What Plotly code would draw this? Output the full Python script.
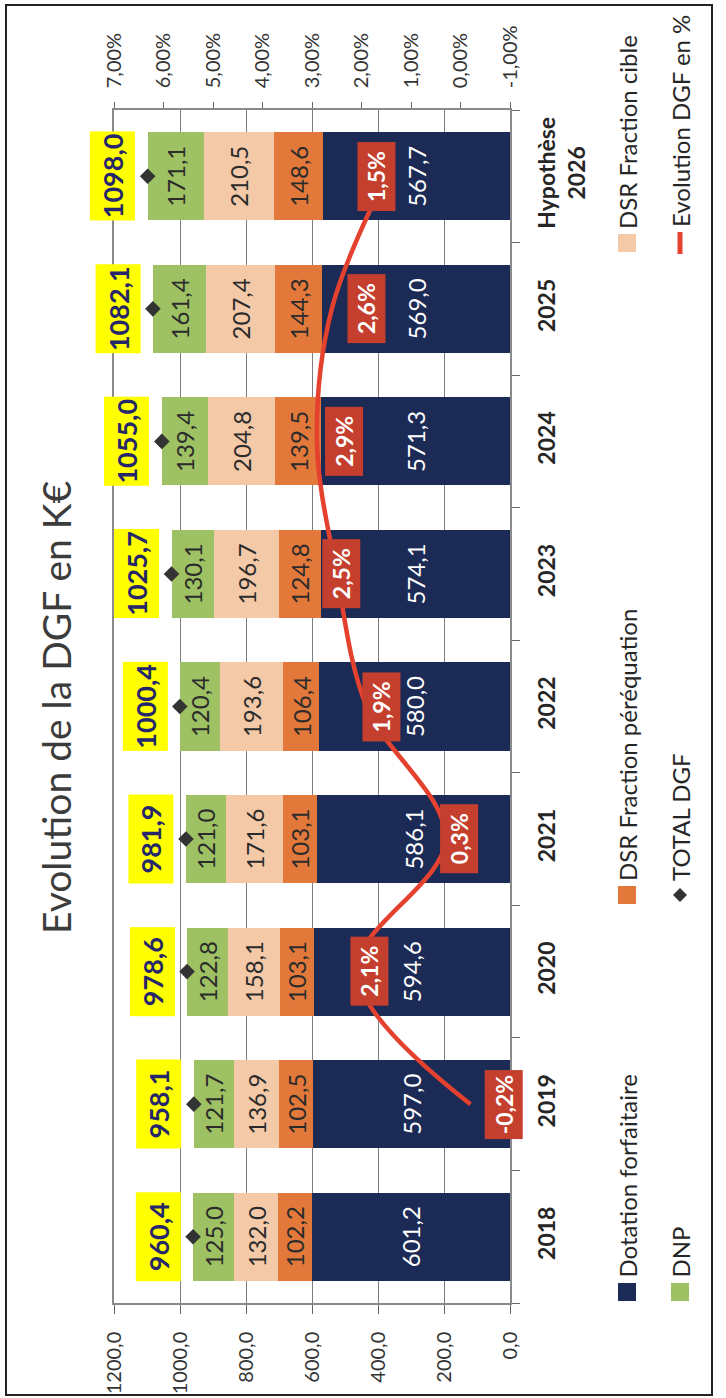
import plotly.graph_objects as go

# ---- data (K€ and %) ----
years = ["2018", "2019", "2020", "2021", "2022", "2023", "2024", "2025", "Hypothèse<br>2026"]
dotation_forfaitaire = [601.2, 597.0, 594.6, 586.1, 580.0, 574.1, 571.3, 569.0, 567.7]
dsr_perequation = [102.2, 102.5, 103.1, 103.1, 106.4, 124.8, 139.5, 144.3, 148.6]
dsr_cible = [132.0, 136.9, 158.1, 171.6, 193.6, 196.7, 204.8, 207.4, 210.5]
dnp = [125.0, 121.7, 122.8, 121.0, 120.4, 130.1, 139.4, 161.4, 171.1]
total_dgf = [960.4, 958.1, 978.6, 981.9, 1000.4, 1025.7, 1055.0, 1082.1, 1098.0]
evolution_pct = [None, -0.2, 2.1, 0.3, 1.9, 2.5, 2.9, 2.6, 1.5]
value_ticks = [0, 200, 400, 600, 800, 1000, 1200]
pct_ticks = [-1, 0, 1, 2, 3, 4, 5, 6, 7]

# ---- styling ----
W, H = 726, 1398
L, R, T, B = 114, 216, 110, 95
PW, PH = W - L - R, H - T - B
FONT = "Lato, Carlito, Calibri, sans-serif"
NAVY = "#1c2a56"
ORANGE = "#e2793a"
PEACH = "#f4c9a8"
GREEN = "#9dc163"
RED_LINE = "#e4412f"
RED_BOX = "#c43f2e"
YELLOW = "#ffff00"
DARK = "#2b2b2b"
GRID = "#7d7d7d"
# label shifts (px) of the % boxes relative to their points
pct_label_shift = [0, 33, 13, 13, 15, 5, 27, 35, -10]


def px(xp):
    return (xp - L) / PW


def py(yp):
    return (H - B - yp) / PH


def fmt(v):
    return f"{v:.1f}".replace(".", ",")


fig = go.Figure()

segments = [
    ("Dotation forfaitaire", dotation_forfaitaire, NAVY, "white"),
    ("DSR Fraction péréquation", dsr_perequation, ORANGE, DARK),
    ("DSR Fraction cible", dsr_cible, PEACH, DARK),
    ("DNP", dnp, GREEN, DARK),
]
for name, vals, color, tcolor in segments:
    fig.add_trace(go.Bar(
        name=name, x=vals, y=years, orientation="h",
        marker=dict(color=color, line=dict(width=0)),
        texttemplate="%{x:.1f}", textposition="inside", insidetextanchor="middle",
        textangle=-90, constraintext="none",
        textfont=dict(family=FONT, size=24, color=tcolor),
        showlegend=False, hoverinfo="skip",
    ))

fig.add_trace(go.Scatter(
    name="TOTAL DGF", x=total_dgf, y=years, mode="markers",
    marker=dict(symbol="diamond", size=12, color="#333333"),
    showlegend=False, hoverinfo="skip",
))

fig.add_trace(go.Scatter(
    name="Evolution DGF en %", x=evolution_pct, y=years, xaxis="x2", mode="lines",
    line=dict(color=RED_LINE, width=4.5, shape="spline", smoothing=1),
    showlegend=False, hoverinfo="skip",
))

annotations = []
# totals in yellow boxes (category positions given by index)
for i, v in enumerate(total_dgf):
    annotations.append(dict(
        x=v, y=i, xref="x", yref="y", text=f"<b>{fmt(v)}</b>", showarrow=False,
        textangle=-90, xshift=-35, bgcolor=YELLOW, width=84, height=40, borderpad=2,
        font=dict(family=FONT, size=27, color="#26266a"),
    ))
# evolution percentages in red boxes
for i, (v, s) in enumerate(zip(evolution_pct, pct_label_shift)):
    if v is None:
        continue
    annotations.append(dict(
        x=v, y=i, xref="x2", yref="y", text=f"<b>{fmt(v)}%</b>", showarrow=False,
        textangle=-90, xshift=s, bgcolor=RED_BOX, width=64, height=33, borderpad=2,
        font=dict(family=FONT, size=23, color="white"),
    ))
# title
annotations.append(dict(
    x=px(56), y=py(708), xref="paper", yref="paper", text="Evolution de la DGF en K€",
    showarrow=False, textangle=-90, xanchor="center", yanchor="middle",
    font=dict(family=FONT, size=39, color="#3c3c3c"),
))

# legend built from shapes and rotated labels
shapes = []
legend_items = [
    # (label, kind, color, column x center, symbol bottom y, symbol top y)
    ("Dotation forfaitaire", "box", NAVY, 627, 1301, 1283),
    ("DSR Fraction péréquation", "box", ORANGE, 627, 904, 886),
    ("DSR Fraction cible", "box", PEACH, 627, 252, 234),
    ("DNP", "box", GREEN, 680, 1301, 1283),
    ("TOTAL DGF", "diamond", "#333333", 680, 904, 886),
    ("Evolution DGF en %", "line", RED_LINE, 680, 254, 232),
]
for label, kind, color, cx, yb, yt in legend_items:
    if kind == "box":
        shapes.append(dict(type="rect", xref="paper", yref="paper",
                           x0=px(cx - 9), x1=px(cx + 9), y0=py(yb), y1=py(yt),
                           fillcolor=color, line=dict(width=0)))
    elif kind == "line":
        shapes.append(dict(type="line", xref="paper", yref="paper",
                           x0=px(cx), x1=px(cx), y0=py(yb), y1=py(yt),
                           line=dict(color=color, width=5)))
    else:
        cy = (yb + yt) / 2
        shapes.append(dict(type="path", xref="paper", yref="paper",
                           path=(f"M {px(cx)} {py(cy - 7)} L {px(cx + 7)} {py(cy)} "
                                 f"L {px(cx)} {py(cy + 7)} L {px(cx - 7)} {py(cy)} Z"),
                           fillcolor=color, line=dict(width=0)))
    annotations.append(dict(
        x=px(cx), y=py(yt - 3), xref="paper", yref="paper", text=label, showarrow=False,
        textangle=-90, xanchor="center", yanchor="bottom",
        font=dict(family=FONT, size=24, color="#262626"),
    ))

# outer frame
shapes.append(dict(type="rect", xref="paper", yref="paper",
                   x0=px(6), x1=px(712), y0=py(1395), y1=py(5),
                   line=dict(color="#222222", width=2), fillcolor="rgba(0,0,0,0)", layer="below"))

fig.update_layout(
    width=W, height=H, margin=dict(l=L, r=R, t=T, b=B, autoexpand=False),
    paper_bgcolor="white", plot_bgcolor="white",
    barmode="stack", bargap=0.336, separators=", ",
    font=dict(family=FONT, color="#333333"),
    xaxis=dict(
        range=[1200, 0], tickvals=value_ticks, ticktext=[fmt(v) for v in value_ticks],
        tickangle=-90,
        showgrid=True, gridcolor=GRID, gridwidth=1, zeroline=False,
        showline=True, linecolor="#8a8a8a", linewidth=1.5,
        ticks="outside", ticklen=9, tickcolor="#666666", ticklabelstandoff=10,
        tickfont=dict(family=FONT, size=20, color="#333333"),
    ),
    xaxis2=dict(
        overlaying="x", side="top", range=[7, -1], tickvals=pct_ticks,
        ticktext=[f"{v:.2f}".replace(".", ",") + "%" for v in pct_ticks],
        tickangle=-90, showgrid=False, zeroline=False,
        showline=True, linecolor="#8a8a8a", linewidth=1.5,
        ticks="outside", ticklen=6, tickcolor="#666666", ticklabelstandoff=10,
        tickfont=dict(family=FONT, size=20, color="#333333"),
    ),
    yaxis=dict(
        type="category", side="right", range=[-0.5, 8.5], tickangle=-90,
        showgrid=False, zeroline=False, showline=True, mirror=True,
        linecolor="#8a8a8a", linewidth=1.5,
        ticks="outside", tickson="boundaries", ticklen=8, tickcolor="#666666",
        ticklabelstandoff=16,
        tickfont=dict(family=FONT, size=23, color="#262626", weight="bold"),
    ),
    annotations=annotations, shapes=shapes,
)

fig.write_html("out.html")
